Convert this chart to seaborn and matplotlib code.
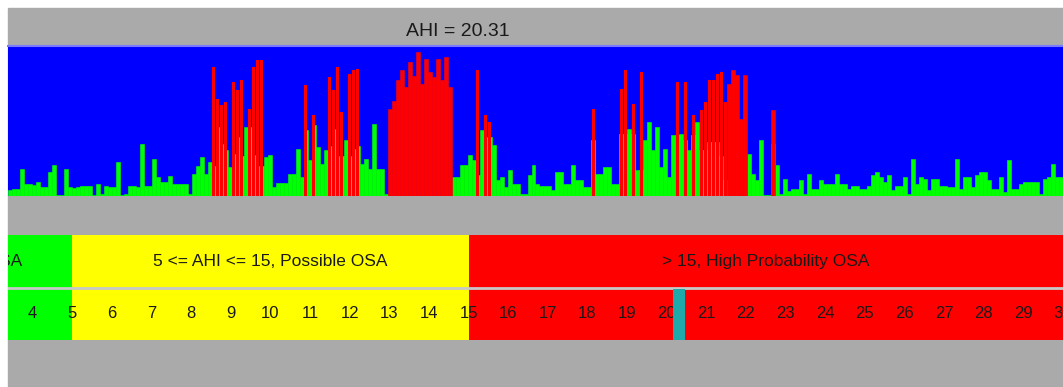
import matplotlib
matplotlib.use("Agg")

import numpy as np
import matplotlib.pyplot as plt
import seaborn as sns

# per-epoch signal heights (4px bins)
green_heights = [
    6, 7, 7, 27, 12, 12, 11, 14, 9, 9,
    24, 31, 1, 1, 27, 9, 8, 9, 10, 10,
    10, 1, 12, 2, 10, 9, 9, 34, 1, 2,
    10, 10, 9, 52, 10, 10, 37, 19, 14, 14,
    20, 12, 12, 12, 12, 2, 22, 30, 39, 22,
    34, 30, 69, 52, 46, 29, 42, 59, 40, 69,
    69, 41, 30, 30, 39, 41, 9, 13, 13, 13,
    22, 22, 47, 19, 66, 36, 71, 49, 32, 46,
    50, 67, 40, 40, 56, 40, 47, 50, 32, 37,
    27, 72, 27, 27, 2, 0, 0, 0, 0, 0,
    0, 0, 0, 0, 0, 0, 0, 0, 0, 0,
    0, 19, 19, 31, 31, 41, 36, 21, 66, 59,
    59, 51, 16, 19, 9, 26, 12, 12, 2, 2,
    21, 31, 12, 10, 10, 10, 6, 24, 24, 12,
    12, 31, 16, 16, 9, 9, 56, 22, 22, 29,
    29, 12, 12, 62, 62, 67, 62, 26, 26, 56,
    74, 46, 69, 29, 47, 19, 61, 61, 62, 56,
    46, 61, 74, 46, 46, 54, 54, 54, 40, 16,
    0, 0, 0, 0, 0, 42, 22, 16, 56, 1,
    1, 52, 31, 2, 17, 5, 7, 7, 16, 2,
    22, 7, 7, 16, 12, 12, 12, 22, 12, 12,
    7, 10, 10, 7, 7, 10, 21, 24, 19, 14,
    21, 6, 10, 10, 19, 2, 37, 12, 19, 17,
    6, 17, 17, 10, 10, 9, 9, 37, 7, 19,
    19, 9, 21, 24, 24, 16, 7, 7, 19, 4,
    36, 7, 7, 12, 14, 14, 14, 14, 2, 17,
    19, 32, 19, 19,
]

# single apnea spikes (red), bin index and height
spike_bins = [51, 52, 53, 54, 56, 57, 58, 60, 61, 62, 63,
              74, 76, 80, 81, 82, 83, 85, 86, 87,
              117, 119, 120,
              146, 153, 154, 156, 158, 167, 169, 171, 173, 174, 175, 176, 177, 178, 179]
spike_heights = [129, 97, 91, 94, 114, 106, 116, 87, 129, 136, 136,
                 111, 81, 119, 106, 129, 84, 122, 126, 127,
                 126, 81, 74,
                 87, 107, 126, 92, 124, 114, 114, 81, 86, 94, 116, 116, 122, 124, 94]

# continuous apnea clusters (solid red)
block_bins = [95, 96, 97, 98, 99, 100, 101, 102, 103, 104, 105, 106, 107, 108, 109, 110,
              180, 181, 182, 183, 184, 191]
block_heights = [87, 95, 116, 126, 109, 134, 120, 144, 112, 137, 124, 119, 137, 116, 139, 109,
                 112, 126, 121, 77, 121, 86]

ahi_value = 20.31
zone_edges = [0, 5, 15, 30]
zone_colors = ["#00ff00", "#ffff00", "#ff0000"]
zone_labels = ["< 5, No OSA", "5 <= AHI <= 15, Possible OSA", "> 15, High Probability OSA"]
scale_ticks = list(range(4, 31))

W, H = 1063, 387
GRAY = "#aaaaaa"

plt.rcParams["font.family"] = ["Liberation Sans", "DejaVu Sans"]

fig = plt.figure(figsize=(W / 100, H / 100), dpi=100, facecolor="white")
fig.add_artist(plt.Rectangle((8 / W, 0), 1 - 8 / W, 1 - 8 / H,
                             transform=fig.transFigure, color=GRAY, zorder=0))

fig.text(458 / W, 1 - 31 / H, f"AHI = {ahi_value:.2f}", ha="center", va="center",
         fontsize=14, color="#1a1a1a")

# signal band
n = len(green_heights)
idx = np.arange(n)
spikes = np.zeros(n)
spikes[spike_bins] = spike_heights
blocks = np.zeros(n)
blocks[block_bins] = block_heights

ax = fig.add_axes([8 / W, 1 - 196 / H, 1055 / W, 150 / H])
ax.set_facecolor("#0000ff")
sns.barplot(x=idx, y=green_heights, color="#00ff00", saturation=1, width=1,
            linewidth=0.4, edgecolor="#00ff00", errorbar=None, ax=ax)
sns.barplot(x=idx, y=spikes, color="#ff0000", saturation=1, width=0.75,
            linewidth=0, errorbar=None, ax=ax)
sns.barplot(x=idx, y=blocks, color="#ff0000", saturation=1, width=1,
            linewidth=0.4, edgecolor="#ff0000", errorbar=None, ax=ax)
ax.set_xlim(-0.5, n - 0.5)
ax.set_ylim(0, 150)
ax.set_xticks([])
ax.set_yticks([])
ax.set_xlabel("")
ax.set_ylabel("")
for s in ax.spines.values():
    s.set_visible(False)
ax.axhline(150, color="#7a7aff", lw=1.5, clip_on=False)

# AHI scale
ax2 = fig.add_axes([8 / W, 1 - 340 / H, 1055 / W, 105 / H])
ax2.set_xlim(3.38, 30)
ax2.set_ylim(0, 1)
for (lo, hi), c, lab in zip(zip(zone_edges[:-1], zone_edges[1:]), zone_colors, zone_labels):
    ax2.axvspan(lo, hi, color=c, lw=0)
    ax2.text((lo + hi) / 2, 0.75, lab, ha="center", va="center", fontsize=12.5,
             color="#1a1a1a", clip_on=True)
ax2.axhline(0.5, color="#c8c8c8", lw=2)
for t in scale_ticks:
    ax2.text(t, 0.25, str(t), ha="center", va="center", fontsize=12,
             color="#1a1a1a", clip_on=True)
ax2.bar([ahi_value], [0.49], width=0.28, bottom=0, color="#1eaaaa", zorder=5)
ax2.set_xticks([])
ax2.set_yticks([])
for s in ax2.spines.values():
    s.set_visible(False)

fig.savefig("out.png", dpi=100, facecolor="white")
